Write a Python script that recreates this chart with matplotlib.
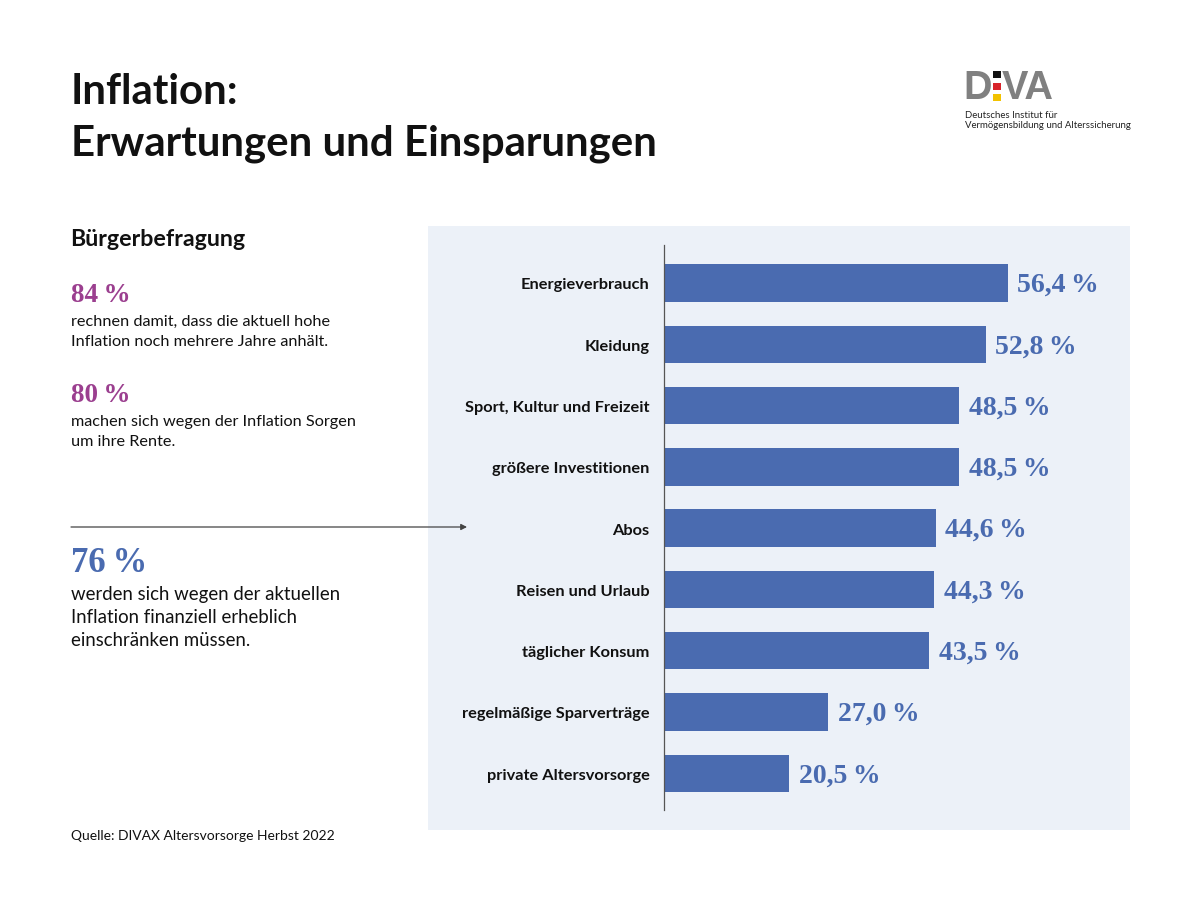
import matplotlib
matplotlib.use("Agg")
import matplotlib.pyplot as plt
from matplotlib.patches import Rectangle
from matplotlib.transforms import ScaledTranslation

categories = ["Energieverbrauch", "Kleidung", "Sport, Kultur und Freizeit", "größere Investitionen",
              "Abos", "Reisen und Urlaub", "täglicher Konsum", "regelmäßige Sparverträge", "private Altersvorsorge"]
values = [56.4, 52.8, 48.5, 48.5, 44.6, 44.3, 43.5, 27.0, 20.5]
value_labels = ["56,4\u2009%", "52,8\u2009%", "48,5\u2009%", "48,5\u2009%", "44,6\u2009%", "44,3\u2009%", "43,5\u2009%", "27,0\u2009%", "20,5\u2009%"]

BLUE = "#4a6bb0"; PURPLE = "#9b3f8f"; PANEL = "#ecf1f8"; INK = "#111111"
SANS = "Lato"; SERIF = "Liberation Serif"

fig = plt.figure(figsize=(12, 9), dpi=100, facecolor="white")
bg = fig.add_axes([0, 0, 1, 1]); bg.set_xlim(0, 1200); bg.set_ylim(900, 0); bg.axis("off")
bg.add_patch(Rectangle((428, 226), 702, 604, fc=PANEL, ec="none"))

def T(x, y, s, size, color=INK, weight="normal", family=SANS, **kw):
    bg.text(x, y, s, fontsize=size, color=color, fontweight=weight, family=family, va="center", **kw)

T(71, 92, "Inflation:", 30.25, weight="bold")
T(71, 144, "Erwartungen und Einsparungen", 30.25, weight="bold")
T(70.5, 239, "Bürgerbefragung", 16.7, weight="bold")
T(71, 295, "84\u2009%", 19.5, PURPLE, "bold", SERIF)
T(71, 322, "rechnen damit, dass die aktuell hohe", 11.73)
T(71, 342, "Inflation noch mehrere Jahre anhält.", 11.73)
T(71, 395, "80\u2009%", 19.5, PURPLE, "bold", SERIF)
T(71, 422, "machen sich wegen der Inflation Sorgen", 11.73)
T(71, 442, "um ihre Rente.", 11.73)
T(71, 563, "76\u2009%", 25, BLUE, "bold", SERIF)
T(71, 594.5, "werden sich wegen der aktuellen", 13.4)
T(71, 617.5, "Inflation finanziell erheblich", 13.4)
T(71, 640.5, "einschränken müssen.", 13.4)
T(71, 836, "Quelle: DIVAX Altersvorsorge Herbst 2022", 9.96)
bg.annotate("", xy=(467, 527), xytext=(71, 527),
            arrowprops=dict(arrowstyle="-|>,head_length=0.35,head_width=0.18", color="#444444", lw=0.9, shrinkA=0, shrinkB=0))

# logo wordmark
T(963, 88, "D", 28.5, "#808080", "bold", "Liberation Sans")
T(1002, 88, "VA", 28.5, "#808080", "bold", "Liberation Sans")
bg.add_patch(Rectangle((993, 71), 8, 7, fc="#111111", ec="none"))
bg.add_patch(Rectangle((993, 83), 8, 7, fc="#d8232a", ec="none"))
bg.add_patch(Rectangle((993, 94), 8, 7, fc="#f2c200", ec="none"))
T(965, 115, "Deutsches Institut für", 6.9, "#222222")
T(965, 126, "Vermögensbildung und Alterssicherung", 6.9, "#222222")

ax = fig.add_axes([664/1200, 1-810/900, (1130-664)/1200, (810-245)/900])
ax.patch.set_alpha(0)
pos = list(range(len(values)))
ax.barh(pos, values, height=0.61, color=BLUE)
ax.set_ylim(8.6, -0.62)
ax.set_xlim(0, 76.5)
ax.set_yticks(pos); ax.set_yticklabels(categories, fontsize=11.75, fontweight="bold", family=SANS, color=INK)
ax.tick_params(axis="y", length=0, pad=10.5)
down = ScaledTranslation(0, -1/100, fig.dpi_scale_trans)
for lbl in ax.get_yticklabels():
    lbl.set_transform(lbl.get_transform() + down)
ax.set_xticks([])
for s in ["top", "right", "bottom"]:
    ax.spines[s].set_visible(False)
ax.spines["left"].set_color("#555555"); ax.spines["left"].set_linewidth(0.9)
for p, v, l in zip(pos, values, value_labels):
    ax.annotate(l, (v, p), xytext=(7, -1.8), textcoords="offset points", va="center",
                fontsize=20, fontweight="bold", family=SERIF, color=BLUE)

fig.savefig("out.png", dpi=100, facecolor="white")
